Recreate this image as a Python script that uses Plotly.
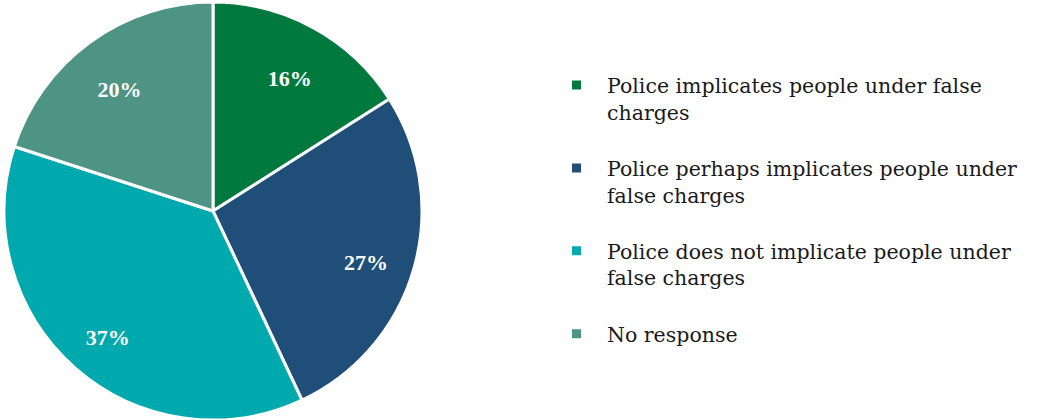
import plotly.graph_objects as go

labels = [
    "Police implicates people under false<br>charges<br> ",
    "Police perhaps implicates people under<br>false charges<br> ",
    "Police does not implicate people under<br>false charges<br> ",
    "No response",
]
values = [16, 27, 37, 20]
colors = ["#00793F", "#1F4E78", "#00A9AD", "#4E9484"]

dom = dict(x=[0, 0.4077], y=[0, 0.995])
text_dom = dict(x=[0, 0.4077], y=[0, 0.96])

fig = go.Figure()
fig.add_trace(go.Pie(
    labels=labels,
    values=values,
    sort=False,
    direction="clockwise",
    rotation=0,
    marker=dict(colors=colors, line=dict(color="white", width=3)),
    textinfo="none",
    domain=dom,
    hoverinfo="label+percent",
))
fig.add_trace(go.Pie(
    labels=labels,
    values=values,
    sort=False,
    direction="clockwise",
    rotation=0,
    hole=0.58,
    marker=dict(colors=["rgba(0,0,0,0)"] * 4, line=dict(width=0)),
    texttemplate="<b>%{percent:.0%}</b>",
    textposition="inside",
    insidetextorientation="horizontal",
    textfont=dict(family="Liberation Serif", size=22, color="white"),
    domain=text_dom,
    showlegend=False,
    hoverinfo="skip",
))

fig.update_layout(
    width=1045, height=420,
    margin=dict(l=0, r=0, t=0, b=0),
    paper_bgcolor="white",
    plot_bgcolor="white",
    showlegend=True,
    legend=dict(
        x=0.5225, y=0.845, xanchor="left", yanchor="top",
        valign="top",
        font=dict(family="DejaVu Serif", size=20.5, color="#1a1a1a"),
        itemwidth=51,
    ),
)

fig.write_html(
    "out.html",
    config={"displayModeBar": False},
    post_script="document.body.style.margin='0';",
)
